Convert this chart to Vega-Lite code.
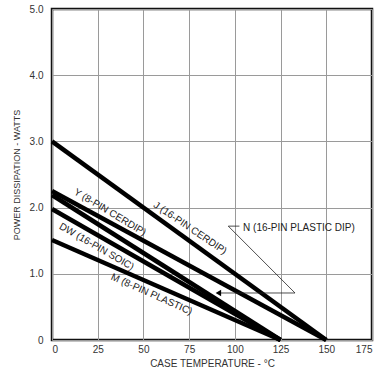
{
  "$schema": "https://vega.github.io/schema/vega-lite/v6.json",
  "width": 320,
  "height": 331,
  "autosize": "none",
  "padding": {"left": 52, "top": 9, "right": 10, "bottom": 37},
  "background": "white",
  "config": {
    "view": {"stroke": "#111", "strokeWidth": 2.5},
    "font": "Liberation Sans",
    "axis": {
      "grid": true, "gridColor": "#9a9a9a", "gridWidth": 1, "domain": false, "ticks": false,
      "labelFont": "Liberation Sans", "labelFontSize": 10, "labelColor": "#333",
      "titleFont": "Liberation Sans", "titleFontWeight": "normal", "titleColor": "#333"
    }
  },
  "datasets": {
    "curves": [
      {"series": "J", "temp": 0, "power": 3.0},
      {"series": "J", "temp": 150, "power": 0},
      {"series": "N", "temp": 0, "power": 2.25},
      {"series": "N", "temp": 150, "power": 0},
      {"series": "Y", "temp": 0, "power": 2.19},
      {"series": "Y", "temp": 125, "power": 0},
      {"series": "DW", "temp": 0, "power": 1.98},
      {"series": "DW", "temp": 125, "power": 0},
      {"series": "M", "temp": 0, "power": 1.51},
      {"series": "M", "temp": 125, "power": 0}
    ],
    "pointer": [
      {"x": 96.4, "y": 1.72, "x2": 132.9, "y2": 0.71},
      {"x": 96.4, "y": 1.72, "x2": 102.5, "y2": 1.72},
      {"x": 132.9, "y": 0.71, "x2": 91, "y2": 0.71}
    ]
  },
  "layer": [
    {
      "data": {"name": "curves"},
      "mark": {"type": "line", "color": "#000", "strokeWidth": 4.5, "strokeCap": "butt"},
      "encoding": {
        "x": {"field": "temp", "type": "quantitative",
              "scale": {"domain": [0, 175], "nice": false},
              "axis": {"values": [0, 25, 50, 75, 100, 125, 150, 175], "title": "CASE TEMPERATURE  -  °C", "titleFontSize": 10, "labelPadding": 4, "titlePadding": 4}},
        "y": {"field": "power", "type": "quantitative",
              "scale": {"domain": [0, 5], "nice": false},
              "axis": {"values": [0, 1, 2, 3, 4, 5], "labelExpr": "datum.value == 0 ? '0' : format(datum.value, '.1f')", "title": "POWER DISSIPATION  -  WATTS", "titleFontSize": 9, "labelPadding": 9, "titlePadding": 8}},
        "detail": {"field": "series"}
      }
    },
    {
      "data": {"name": "pointer"},
      "mark": {"type": "rule", "color": "#222", "strokeWidth": 0.8},
      "encoding": {
        "x": {"field": "x", "type": "quantitative"},
        "y": {"field": "y", "type": "quantitative"},
        "x2": {"field": "x2"},
        "y2": {"field": "y2"}
      }
    },
    {
      "data": {"values": [{"x": 91, "y": 0.71}]},
      "mark": {"type": "point", "shape": "triangle-left", "filled": true, "color": "#000", "size": 40, "opacity": 1},
      "encoding": {
        "x": {"field": "x", "type": "quantitative"},
        "y": {"field": "y", "type": "quantitative"}
      }
    },
    {
      "data": {"values": [{"x": 104.5, "y": 1.69, "label": "N (16-PIN PLASTIC DIP)"}]},
      "mark": {"type": "text", "align": "left", "baseline": "middle", "fontSize": 10, "color": "#222", "letterSpacing": 0.6},
      "encoding": {"x": {"field": "x", "type": "quantitative"}, "y": {"field": "y", "type": "quantitative"}, "text": {"field": "label"}}
    },
    {
      "data": {"values": [{"x": 75.5, "y": 1.69, "label": "J (16-PIN CERDIP)"}]},
      "mark": {"type": "text", "align": "center", "baseline": "middle", "fontSize": 10, "color": "#222", "angle": 34, "letterSpacing": 0.6},
      "encoding": {"x": {"field": "x", "type": "quantitative"}, "y": {"field": "y", "type": "quantitative"}, "text": {"field": "label"}}
    },
    {
      "data": {"values": [{"x": 31.7, "y": 1.93, "label": "Y (8-PIN CERDIP)"}]},
      "mark": {"type": "text", "align": "center", "baseline": "middle", "fontSize": 10, "color": "#222", "angle": 31, "letterSpacing": 0.6},
      "encoding": {"x": {"field": "x", "type": "quantitative"}, "y": {"field": "y", "type": "quantitative"}, "text": {"field": "label"}}
    },
    {
      "data": {"values": [{"x": 24.4, "y": 1.41, "label": "DW (16-PIN SOIC)"}]},
      "mark": {"type": "text", "align": "center", "baseline": "middle", "fontSize": 10, "color": "#222", "angle": 30, "letterSpacing": 0.6},
      "encoding": {"x": {"field": "x", "type": "quantitative"}, "y": {"field": "y", "type": "quantitative"}, "text": {"field": "label"}}
    },
    {
      "data": {"values": [{"x": 54.5, "y": 0.69, "label": "M (8-PIN PLASTIC)"}]},
      "mark": {"type": "text", "align": "center", "baseline": "middle", "fontSize": 10, "color": "#222", "angle": 24, "letterSpacing": 0.6},
      "encoding": {"x": {"field": "x", "type": "quantitative"}, "y": {"field": "y", "type": "quantitative"}, "text": {"field": "label"}}
    }
  ]
}
